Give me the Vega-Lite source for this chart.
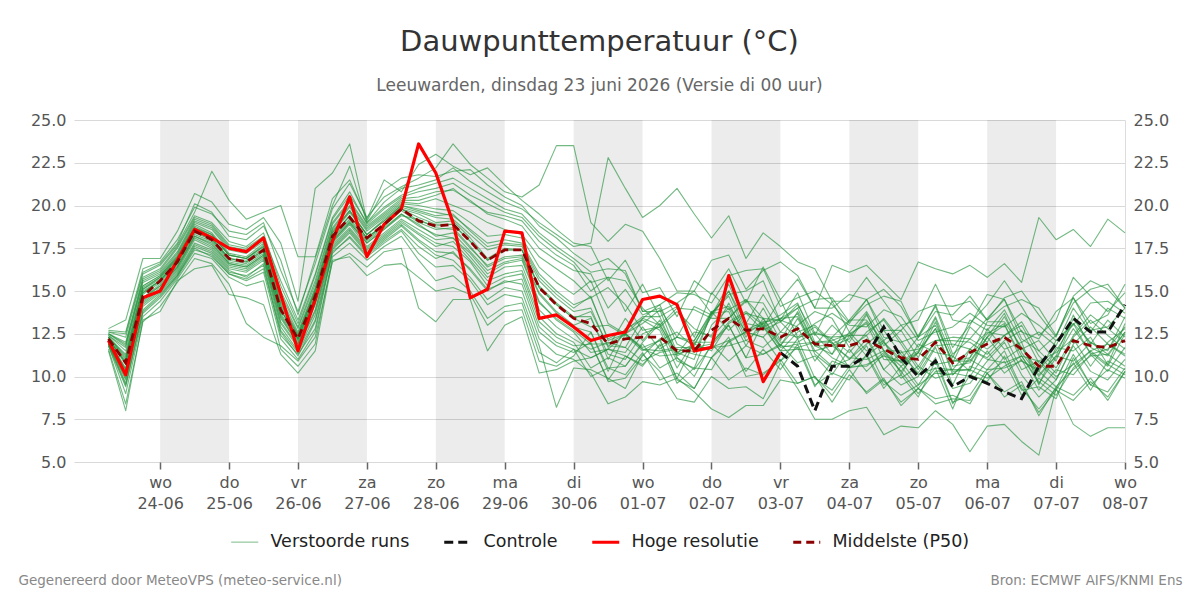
{
"$schema":"https://vega.github.io/schema/vega-lite/v6.json",
"width":1051,"height":342,
"autosize":{"type":"none"},
"padding":{"left":74,"top":120,"right":75,"bottom":138},
"background":"#ffffff",
"config":{"font":"DejaVu Sans","view":{"stroke":null}},
"title":{"text":"Dauwpunttemperatuur (°C)","subtitle":"Leeuwarden, dinsdag 23 juni 2026 (Versie di 00 uur)","anchor":"middle","frame":"group","fontSize":29,"fontWeight":"normal","color":"#333333","subtitleFontSize":17,"subtitleColor":"#666666","subtitlePadding":21,"offset":18},
"datasets":{
"days":[
{"a":"2026-06-24T00:00","b":"2026-06-25T00:00"},
{"a":"2026-06-26T00:00","b":"2026-06-27T00:00"},
{"a":"2026-06-28T00:00","b":"2026-06-29T00:00"},
{"a":"2026-06-30T00:00","b":"2026-07-01T00:00"},
{"a":"2026-07-02T00:00","b":"2026-07-03T00:00"},
{"a":"2026-07-04T00:00","b":"2026-07-05T00:00"},
{"a":"2026-07-06T00:00","b":"2026-07-07T00:00"}],
"runs":[
{"ts":"2026-06-23T06:00","a":12.1,"b":12.4,"c":11.8,"d":12.5,"e":12.2,"f":11.9,"g":12.7,"h":11.6,"i":12.3,"j":12.1,"k":12.5,"l":11.9,"m":12.3,"n":12.0,"o":12.6,"p":11.8,"q":12.2,"r":12.4,"s":12.2,"t":11.9,"u":12.3,"v":12.8,"w":12.0,"x":12.5,"y":11.5,"z":12.2,"A":12.3,"B":11.9,"E":12.6,"F":12.1,"H":12.1,"P":12.2},
{"ts":"2026-06-23T12:00","a":10.4,"b":11.5,"c":9.4,"d":12.0,"e":10.8,"f":9.9,"g":12.6,"h":8.4,"i":11.1,"j":10.5,"k":11.8,"l":9.6,"m":11.3,"n":10.2,"o":12.3,"p":9.0,"q":10.9,"r":11.7,"s":10.7,"t":9.5,"u":11.2,"v":13.3,"w":10.1,"x":11.9,"y":8.0,"z":10.8,"A":11.0,"B":9.8,"E":12.5,"F":10.4,"H":10.1,"P":10.8},
{"ts":"2026-06-23T18:00","a":14.5,"b":15.3,"c":13.7,"d":15.8,"e":14.9,"f":14.2,"g":16.3,"h":13.2,"i":15.1,"j":14.6,"k":15.6,"l":13.9,"m":15.3,"n":14.4,"o":16.0,"p":13.5,"q":15.0,"r":15.5,"s":14.8,"t":13.8,"u":15.2,"v":16.9,"w":14.3,"x":15.7,"y":13.3,"z":14.9,"A":15.1,"B":14.1,"E":16.1,"F":14.6,"H":14.6,"P":14.7},
{"ts":"2026-06-24T00:00","a":15.3,"b":15.9,"c":14.6,"d":16.3,"e":15.6,"f":15.0,"g":16.7,"h":14.1,"i":15.8,"j":15.4,"k":16.1,"l":14.8,"m":15.9,"n":15.2,"o":16.5,"p":14.4,"q":15.6,"r":16.0,"s":15.5,"t":14.7,"u":15.8,"v":16.9,"w":15.1,"x":16.2,"y":13.8,"z":15.6,"A":15.7,"B":14.9,"E":16.6,"F":15.3,"H":15.0,"P":15.6},
{"ts":"2026-06-24T06:00","a":16.4,"b":17.1,"c":15.8,"d":17.6,"e":16.7,"f":16.1,"g":18.0,"h":15.5,"i":16.9,"j":16.5,"k":17.3,"l":15.9,"m":17.0,"n":16.3,"o":17.7,"p":15.7,"q":16.8,"r":17.2,"s":16.6,"t":15.9,"u":17.0,"v":18.5,"w":16.2,"x":17.5,"y":15.6,"z":16.7,"A":16.9,"B":16.0,"E":17.8,"F":16.4,"H":16.8,"P":16.7},
{"ts":"2026-06-24T12:00","a":18.2,"b":19.0,"c":17.4,"d":19.4,"e":18.5,"f":17.8,"g":19.9,"h":16.9,"i":18.7,"j":18.3,"k":19.2,"l":17.6,"m":18.9,"n":18.1,"o":19.6,"p":17.2,"q":18.6,"r":19.1,"s":18.4,"t":17.5,"u":18.8,"v":20.7,"w":18.0,"x":19.3,"y":16.3,"z":18.5,"A":18.7,"B":17.7,"E":20.1,"F":18.2,"H":18.6,"P":18.5},
{"ts":"2026-06-24T18:00","a":17.7,"b":18.6,"c":17.1,"d":19.0,"e":18.1,"f":17.4,"g":19.5,"h":16.6,"i":18.3,"j":17.9,"k":18.8,"l":17.2,"m":18.4,"n":17.6,"o":22.0,"p":16.9,"q":18.1,"r":18.7,"s":18.0,"t":17.0,"u":18.3,"v":20.2,"w":17.5,"x":18.9,"y":16.5,"z":18.0,"A":18.2,"B":17.3,"E":19.6,"F":17.8,"H":18.1,"P":18.0},
{"ts":"2026-06-25T00:00","a":16.6,"b":17.4,"c":16.0,"d":17.9,"e":16.9,"f":16.3,"g":18.5,"h":15.4,"i":17.1,"j":16.7,"k":17.6,"l":16.1,"m":17.2,"n":16.5,"o":20.3,"p":15.8,"q":16.9,"r":17.5,"s":16.8,"t":16.0,"u":17.1,"v":18.9,"w":16.4,"x":17.7,"y":14.8,"z":16.9,"A":17.1,"B":16.2,"E":18.2,"F":16.6,"H":17.5,"P":16.9},
{"ts":"2026-06-25T06:00","a":16.4,"b":17.2,"c":15.7,"d":17.6,"e":16.7,"f":16.1,"g":18.3,"h":13.1,"i":16.9,"j":16.5,"k":17.4,"l":15.9,"m":17.0,"n":16.3,"o":19.2,"p":15.3,"q":16.8,"r":17.3,"s":16.6,"t":15.6,"u":16.9,"v":18.6,"w":16.2,"x":17.5,"y":14.6,"z":16.7,"A":16.9,"B":15.8,"E":18.0,"F":16.4,"H":17.3,"P":16.7},
{"ts":"2026-06-25T12:00","a":17.1,"b":17.9,"c":16.3,"d":18.4,"e":17.4,"f":16.8,"g":19.0,"h":12.3,"i":17.6,"j":17.2,"k":18.1,"l":16.5,"m":17.8,"n":17.0,"o":19.6,"p":15.6,"q":17.5,"r":18.0,"s":17.3,"t":16.1,"u":17.7,"v":19.3,"w":16.9,"x":18.2,"y":14.2,"z":17.4,"A":17.6,"B":16.6,"E":18.8,"F":17.1,"H":18.1,"P":17.4},
{"ts":"2026-06-25T18:00","a":13.5,"b":14.6,"c":12.6,"d":15.3,"e":13.9,"f":12.9,"g":16.2,"h":11.8,"i":14.2,"j":13.6,"k":15.0,"l":12.4,"m":14.4,"n":13.2,"o":20.0,"p":11.6,"q":13.9,"r":14.8,"s":13.7,"t":12.2,"u":14.3,"v":17.8,"w":13.1,"x":15.6,"y":11.3,"z":13.9,"A":14.1,"B":12.7,"E":16.8,"F":13.4,"H":14.8,"P":13.9},
{"ts":"2026-06-26T00:00","a":11.9,"b":12.6,"c":11.2,"d":13.1,"e":12.2,"f":11.5,"g":13.8,"h":10.9,"i":12.4,"j":12.0,"k":12.9,"l":11.3,"m":12.5,"n":11.8,"o":17.0,"p":10.6,"q":12.2,"r":12.8,"s":12.1,"t":11.0,"u":12.4,"v":14.4,"w":11.7,"x":13.3,"y":10.2,"z":12.2,"A":12.3,"B":11.4,"E":13.6,"F":11.9,"H":11.5,"P":12.2},
{"ts":"2026-06-26T06:00","a":14.3,"b":15.2,"c":13.2,"d":15.9,"e":14.7,"f":13.6,"g":16.6,"h":12.3,"i":15.0,"j":14.4,"k":15.6,"l":12.8,"m":15.1,"n":13.9,"o":17.0,"p":11.9,"q":14.7,"r":15.4,"s":14.5,"t":12.6,"u":15.0,"v":21.0,"w":13.8,"x":16.0,"y":11.5,"z":14.7,"A":14.9,"B":13.3,"E":16.9,"F":14.2,"H":14.5,"P":14.7},
{"ts":"2026-06-26T12:00","a":17.9,"b":18.7,"c":17.2,"d":19.2,"e":18.2,"f":17.6,"g":19.8,"h":16.7,"i":18.4,"j":18.0,"k":19.0,"l":17.4,"m":18.6,"n":17.8,"o":20.4,"p":17.0,"q":18.2,"r":18.9,"s":18.1,"t":17.3,"u":18.5,"v":21.9,"w":17.7,"x":19.3,"y":16.8,"z":18.2,"A":18.4,"B":17.5,"E":20.0,"F":17.9,"H":17.9,"P":18.2},
{"ts":"2026-06-26T18:00","a":19.0,"b":20.0,"c":18.2,"d":20.6,"e":19.4,"f":18.6,"g":21.3,"h":17.2,"i":19.7,"j":19.1,"k":20.3,"l":18.4,"m":19.9,"n":18.9,"o":21.5,"p":17.8,"q":19.4,"r":20.2,"s":19.2,"t":18.1,"u":19.7,"v":23.6,"w":18.7,"x":20.8,"y":17.0,"z":19.4,"A":19.6,"B":18.5,"E":22.3,"F":19.0,"H":20.5,"P":19.3},
{"ts":"2026-06-27T00:00","a":17.8,"b":18.6,"c":17.1,"d":19.0,"e":18.1,"f":17.4,"g":19.3,"h":16.4,"i":18.3,"j":17.9,"k":18.8,"l":17.2,"m":18.5,"n":17.6,"o":19.2,"p":16.8,"q":18.1,"r":18.7,"s":18.0,"t":17.0,"u":18.3,"v":19.1,"w":17.5,"x":18.9,"y":15.9,"z":18.1,"A":18.3,"B":17.3,"E":19.0,"F":17.8,"H":17.0,"P":18.1},
{"ts":"2026-06-27T06:00","a":18.6,"b":19.4,"c":17.9,"d":19.9,"e":18.9,"f":18.2,"g":20.5,"h":17.3,"i":19.1,"j":18.7,"k":19.6,"l":18.0,"m":19.3,"n":18.4,"o":21.5,"p":17.6,"q":18.9,"r":19.5,"s":18.8,"t":17.8,"u":19.2,"v":20.9,"w":18.3,"x":19.8,"y":16.5,"z":18.9,"A":19.1,"B":18.1,"E":20.2,"F":18.6,"H":18.9,"P":18.9},
{"ts":"2026-06-27T12:00","a":19.4,"b":20.2,"c":18.6,"d":20.6,"e":19.8,"f":19.0,"g":21.1,"h":17.5,"i":20.0,"j":19.5,"k":20.4,"l":18.8,"m":20.1,"n":19.2,"o":20.8,"p":18.2,"q":19.8,"r":20.3,"s":19.7,"t":18.5,"u":20.0,"v":21.6,"w":19.1,"x":20.5,"y":16.6,"z":19.8,"A":19.9,"B":18.9,"E":21.0,"F":19.5,"H":19.8,"P":19.8},
{"ts":"2026-06-27T18:00","a":19.2,"b":20.1,"c":17.6,"d":21.0,"e":19.5,"f":18.3,"g":21.6,"h":14.0,"i":19.8,"j":18.9,"k":20.5,"l":17.9,"m":20.0,"n":18.6,"o":22.4,"p":16.8,"q":19.3,"r":20.3,"s":19.0,"t":17.2,"u":19.7,"v":21.8,"w":18.4,"x":20.8,"y":15.8,"z":19.1,"A":19.6,"B":18.0,"E":21.2,"F":18.8,"H":23.6,"P":19.1},
{"ts":"2026-06-28T00:00","a":18.7,"b":20.4,"c":16.9,"d":21.3,"e":19.0,"f":17.6,"g":22.2,"h":13.2,"i":19.6,"j":18.2,"k":20.8,"l":17.1,"m":19.8,"n":18.0,"o":23.0,"p":15.6,"q":18.9,"r":20.6,"s":18.6,"t":16.4,"u":19.4,"v":21.7,"w":17.8,"x":21.0,"y":15.0,"z":18.8,"A":19.3,"B":17.3,"E":21.5,"F":18.3,"H":21.9,"P":18.8},
{"ts":"2026-06-28T06:00","a":18.6,"b":20.0,"c":17.3,"d":21.6,"e":19.1,"f":17.9,"g":23.6,"h":14.5,"i":19.4,"j":18.4,"k":20.9,"l":16.8,"m":19.7,"n":18.1,"o":22.3,"p":15.9,"q":18.9,"r":21.0,"s":18.7,"t":16.5,"u":19.5,"v":22.0,"w":17.6,"x":21.3,"y":15.2,"z":18.9,"A":19.2,"B":17.2,"E":22.2,"F":18.1,"H":19.0,"P":18.9},
{"ts":"2026-06-28T12:00","a":17.5,"b":19.6,"c":16.2,"d":21.0,"e":18.1,"f":16.8,"g":22.4,"h":14.5,"i":18.6,"j":17.3,"k":20.3,"l":15.8,"m":19.0,"n":17.0,"o":21.8,"p":15.0,"q":17.9,"r":20.2,"s":17.6,"t":15.6,"u":18.5,"v":22.1,"w":16.7,"x":20.6,"y":14.8,"z":17.9,"A":18.3,"B":16.3,"E":21.4,"F":17.2,"H":14.6,"P":17.9},
{"ts":"2026-06-28T18:00","a":16.5,"b":19.0,"c":15.0,"d":20.4,"e":16.9,"f":15.6,"g":21.6,"h":11.5,"i":17.8,"j":16.2,"k":19.5,"l":14.5,"m":18.2,"n":15.8,"o":22.2,"p":13.4,"q":16.8,"r":19.6,"s":16.4,"t":14.2,"u":17.6,"v":21.2,"w":15.3,"x":20.1,"y":13.0,"z":16.8,"A":17.4,"B":15.1,"E":20.8,"F":16.0,"H":15.1,"P":16.8},
{"ts":"2026-06-29T00:00","a":17.0,"b":18.6,"c":15.6,"d":19.8,"e":17.5,"f":16.0,"g":20.8,"h":13.0,"i":18.0,"j":16.7,"k":19.2,"l":15.2,"m":18.3,"n":16.4,"o":21.2,"p":14.1,"q":17.4,"r":19.4,"s":16.9,"t":14.8,"u":17.8,"v":20.5,"w":15.8,"x":19.6,"y":13.8,"z":17.4,"A":17.7,"B":15.5,"E":20.2,"F":16.6,"H":18.5,"P":17.4},
{"ts":"2026-06-29T06:00","a":17.1,"b":18.3,"c":15.4,"d":19.5,"e":17.4,"f":16.2,"g":20.5,"h":13.5,"i":17.8,"j":16.9,"k":18.8,"l":15.0,"m":18.1,"n":16.5,"o":20.3,"p":14.3,"q":17.4,"r":19.1,"s":17.0,"t":14.6,"u":17.7,"v":20.0,"w":16.0,"x":19.3,"y":13.9,"z":17.4,"A":17.6,"B":15.7,"E":19.8,"F":16.8,"H":18.4,"P":17.4},
{"ts":"2026-06-29T12:00","a":14.9,"b":17.0,"c":12.6,"d":18.4,"e":15.3,"f":13.5,"g":21.2,"h":10.2,"i":16.0,"j":14.4,"k":17.5,"l":12.2,"m":16.4,"n":13.9,"o":19.5,"p":11.4,"q":15.2,"r":17.9,"s":14.8,"t":11.8,"u":15.8,"v":18.8,"w":13.2,"x":18.2,"y":10.9,"z":15.2,"A":15.6,"B":12.9,"E":19.0,"F":14.3,"H":13.4,"P":15.2},
{"ts":"2026-06-29T18:00","a":13.8,"b":16.3,"c":11.8,"d":17.6,"e":14.3,"f":12.5,"g":23.5,"h":10.4,"i":15.0,"j":13.3,"k":16.8,"l":11.3,"m":15.5,"n":12.9,"o":18.6,"p":10.8,"q":14.2,"r":17.1,"s":13.7,"t":8.2,"u":14.8,"v":18.1,"w":12.3,"x":17.4,"y":10.6,"z":14.2,"A":14.6,"B":12.0,"E":18.3,"F":13.4,"H":13.6,"P":14.2},
{"ts":"2026-06-30T00:00","a":13.0,"b":15.6,"c":11.4,"d":16.9,"e":13.5,"f":12.0,"g":23.5,"h":10.9,"i":14.2,"j":12.6,"k":16.2,"l":11.0,"m":14.8,"n":12.2,"o":17.8,"p":11.6,"q":13.4,"r":16.5,"s":12.9,"t":10.5,"u":14.0,"v":17.2,"w":11.8,"x":16.7,"y":11.2,"z":13.4,"A":13.8,"B":11.6,"E":17.6,"F":12.7,"H":12.9,"P":13.4},
{"ts":"2026-06-30T06:00","a":13.4,"b":14.6,"c":12.0,"d":16.1,"e":13.5,"f":10.5,"g":19.0,"h":11.1,"i":14.6,"j":11.4,"k":16.0,"l":10.2,"m":15.6,"n":11.6,"o":17.6,"p":11.1,"q":13.8,"r":15.0,"s":12.6,"t":10.4,"u":14.7,"v":16.5,"w":11.9,"x":15.5,"y":12.6,"z":12.9,"A":14.0,"B":10.0,"E":17.8,"F":11.9,"H":12.1,"P":13.1},
{"ts":"2026-06-30T12:00","a":11.3,"b":15.2,"c":9.7,"d":16.3,"e":11.0,"f":11.1,"g":17.9,"h":11.6,"i":12.2,"j":11.6,"k":14.0,"l":8.4,"m":13.1,"n":12.0,"o":15.6,"p":11.6,"q":11.8,"r":15.8,"s":10.3,"t":9.9,"u":12.1,"v":16.9,"w":9.8,"x":15.8,"y":10.5,"z":13.0,"A":11.7,"B":10.5,"E":22.8,"F":11.9,"H":12.4,"P":11.9},
{"ts":"2026-06-30T18:00","a":11.0,"b":14.2,"c":9.9,"d":16.2,"e":12.8,"f":10.6,"g":18.9,"h":11.2,"i":12.7,"j":12.5,"k":15.1,"l":8.8,"m":12.5,"n":11.7,"o":16.8,"p":11.4,"q":11.7,"r":15.6,"s":12.5,"t":9.3,"u":12.5,"v":16.0,"w":11.2,"x":13.8,"y":10.6,"z":12.4,"A":13.4,"B":10.1,"E":21.0,"F":12.5,"H":12.6,"P":12.2},
{"ts":"2026-07-01T00:00","a":12.5,"b":12.7,"c":11.2,"d":13.8,"e":13.3,"f":11.9,"g":18.5,"h":10.7,"i":13.5,"j":11.6,"k":13.6,"l":9.7,"m":13.4,"n":10.9,"o":14.9,"p":12.9,"q":13.4,"r":14.0,"s":11.7,"t":11.3,"u":13.1,"v":13.8,"w":10.6,"x":15.4,"y":12.0,"z":11.5,"A":12.1,"B":11.4,"E":19.3,"F":11.6,"H":14.5,"P":12.3},
{"ts":"2026-07-01T06:00","a":12.9,"b":12.9,"c":12.2,"d":13.8,"e":12.7,"f":10.5,"g":16.9,"h":11.8,"i":13.5,"j":11.2,"k":14.0,"l":9.5,"m":14.2,"n":11.4,"o":15.2,"p":11.6,"q":13.0,"r":13.0,"s":12.1,"t":10.3,"u":13.9,"v":14.2,"w":11.9,"x":13.5,"y":13.1,"z":12.1,"A":13.3,"B":9.8,"E":20.0,"F":11.5,"H":14.7,"P":12.3},
{"ts":"2026-07-01T12:00","a":10.9,"b":13.8,"c":9.8,"d":14.3,"e":10.5,"f":11.1,"g":15.0,"h":12.3,"i":11.2,"j":11.3,"k":12.3,"l":9.9,"m":11.9,"n":11.6,"o":13.5,"p":12.3,"q":11.4,"r":14.0,"s":9.9,"t":8.7,"u":11.4,"v":14.9,"w":9.6,"x":14.1,"y":11.1,"z":12.6,"A":11.3,"B":10.2,"E":21.0,"F":11.7,"H":14.2,"P":11.5},
{"ts":"2026-07-01T18:00","a":10.5,"b":12.8,"c":9.3,"d":15.0,"e":12.1,"f":10.0,"g":15.0,"h":11.9,"i":11.8,"j":11.7,"k":14.1,"l":9.1,"m":11.4,"n":11.3,"o":15.6,"p":12.1,"q":11.0,"r":13.9,"s":12.0,"t":8.5,"u":11.9,"v":14.8,"w":10.5,"x":12.3,"y":10.4,"z":11.7,"A":12.6,"B":9.3,"E":19.5,"F":11.7,"H":11.5,"P":11.5},
{"ts":"2026-07-02T00:00","a":13.0,"b":12.3,"c":11.1,"d":13.7,"e":13.7,"f":11.9,"g":16.8,"h":11.5,"i":13.7,"j":11.7,"k":13.6,"l":8.1,"m":13.6,"n":11.1,"o":14.8,"p":13.8,"q":13.8,"r":13.4,"s":12.0,"t":10.0,"u":13.5,"v":14.3,"w":10.4,"x":14.9,"y":11.8,"z":11.9,"A":12.4,"B":11.1,"E":18.1,"F":11.7,"H":11.7,"P":12.7},
{"ts":"2026-07-02T06:00","a":14.0,"b":13.4,"c":12.3,"d":14.8,"e":13.8,"f":10.9,"g":17.1,"h":13.1,"i":14.7,"j":11.8,"k":15.0,"l":7.6,"m":15.4,"n":12.0,"o":16.3,"p":12.7,"q":14.1,"r":13.4,"s":13.0,"t":9.3,"u":15.0,"v":15.9,"w":12.1,"x":13.9,"y":13.0,"z":13.2,"A":14.3,"B":9.8,"E":19.4,"F":12.1,"H":15.9,"P":13.4},
{"ts":"2026-07-02T12:00","a":12.1,"b":14.5,"c":10.0,"d":15.0,"e":11.8,"f":11.8,"g":15.1,"h":13.7,"i":12.5,"j":12.1,"k":13.1,"l":8.3,"m":13.1,"n":12.6,"o":14.3,"p":13.7,"q":12.6,"r":14.4,"s":11.1,"t":9.4,"u":12.7,"v":16.2,"w":10.3,"x":14.5,"y":11.1,"z":13.8,"A":12.3,"B":10.5,"E":16.9,"F":12.6,"H":13.0,"P":12.7},
{"ts":"2026-07-02T18:00","a":11.7,"b":13.4,"c":10.2,"d":15.6,"e":13.4,"f":11.3,"g":16.2,"h":13.4,"i":13.1,"j":12.9,"k":14.8,"l":8.3,"m":12.9,"n":12.3,"o":16.4,"p":12.7,"q":12.3,"r":14.3,"s":13.2,"t":8.7,"u":13.2,"v":16.3,"w":11.6,"x":12.9,"y":11.3,"z":13.0,"A":14.0,"B":10.1,"E":18.4,"F":13.1,"H":9.7,"P":12.8},
{"ts":"2026-07-03T00:00","a":12.6,"b":11.8,"c":10.9,"d":13.2,"e":13.3,"f":11.9,"g":16.7,"h":12.0,"i":13.6,"j":11.5,"k":13.2,"l":9.8,"m":13.4,"n":10.9,"o":14.5,"p":13.2,"q":13.4,"r":12.6,"s":11.8,"t":10.8,"u":13.3,"v":14.1,"w":10.4,"x":14.5,"y":11.8,"z":11.5,"A":12.1,"B":11.0,"E":17.6,"F":11.7,"H":11.4,"C":11.4,"P":12.3},
{"ts":"2026-07-03T06:00","a":13.7,"b":13.0,"c":12.2,"d":14.0,"e":12.9,"f":10.8,"g":15.9,"h":12.0,"i":14.3,"j":11.6,"k":14.2,"l":9.6,"m":14.0,"n":11.7,"o":15.7,"p":12.2,"q":13.5,"r":12.3,"s":11.7,"t":9.3,"u":14.9,"v":14.6,"w":11.9,"x":12.3,"y":13.4,"z":12.6,"A":13.8,"B":9.6,"E":16.7,"F":11.9,"C":10.6,"P":12.8},
{"ts":"2026-07-03T12:00","a":11.3,"b":13.8,"c":9.9,"d":14.5,"e":10.9,"f":11.2,"g":14.0,"h":12.6,"i":12.0,"j":11.5,"k":12.4,"l":10.0,"m":11.8,"n":12.0,"o":14.0,"p":12.9,"q":11.8,"r":13.1,"s":9.4,"t":7.5,"u":12.5,"v":15.0,"w":9.5,"x":12.5,"y":11.5,"z":13.0,"A":11.8,"B":10.0,"E":16.3,"F":12.0,"C":8.0,"P":11.9},
{"ts":"2026-07-03T18:00","a":10.5,"b":13.4,"c":9.2,"d":14.6,"e":12.3,"f":10.1,"g":14.0,"h":12.2,"i":12.1,"j":11.8,"k":14.4,"l":8.5,"m":11.8,"n":11.1,"o":16.5,"p":11.9,"q":11.3,"r":13.7,"s":10.9,"t":7.5,"u":12.3,"v":14.2,"w":10.2,"x":11.3,"y":10.6,"z":12.0,"A":13.0,"B":8.9,"E":14.4,"F":12.0,"C":10.6,"P":11.8},
{"ts":"2026-07-04T00:00","a":12.4,"b":11.7,"c":10.6,"d":13.2,"e":12.4,"f":11.6,"g":14.8,"h":11.4,"i":12.5,"j":11.1,"k":12.6,"l":10.1,"m":12.2,"n":10.6,"o":16.1,"p":12.4,"q":13.3,"r":13.0,"s":10.5,"t":8.0,"u":13.3,"v":13.1,"w":9.8,"x":12.6,"y":11.0,"z":11.0,"A":12.0,"B":10.4,"E":14.4,"F":10.5,"C":10.6,"P":11.8},
{"ts":"2026-07-04T06:00","a":13.2,"b":12.4,"c":11.8,"d":14.2,"e":12.4,"f":10.3,"g":14.5,"h":12.6,"i":13.1,"j":11.0,"k":13.8,"l":9.1,"m":13.7,"n":10.6,"o":16.5,"p":11.2,"q":13.3,"r":12.9,"s":11.2,"t":8.2,"u":14.5,"v":14.5,"w":11.3,"x":11.5,"y":12.2,"z":11.9,"A":13.6,"B":9.0,"E":15.8,"F":10.7,"C":11.2,"P":12.1},
{"ts":"2026-07-04T12:00","a":11.5,"b":13.4,"c":9.7,"d":14.7,"e":10.4,"f":11.3,"g":12.7,"h":13.3,"i":11.0,"j":11.5,"k":12.1,"l":9.9,"m":11.5,"n":11.4,"o":15.5,"p":12.0,"q":12.0,"r":13.9,"s":9.3,"t":6.6,"u":12.3,"v":15.1,"w":9.5,"x":12.1,"y":10.4,"z":12.7,"A":11.8,"B":9.8,"E":14.4,"F":11.2,"C":12.9,"P":11.6},
{"ts":"2026-07-04T18:00","a":10.3,"b":12.1,"c":8.9,"d":14.4,"e":11.4,"f":9.9,"g":12.7,"h":11.9,"i":10.9,"j":11.5,"k":13.0,"l":8.3,"m":10.6,"n":10.3,"o":14.5,"p":10.8,"q":11.0,"r":13.5,"s":10.6,"t":7.1,"u":12.0,"v":14.1,"w":10.1,"x":10.1,"y":9.5,"z":11.3,"A":12.7,"B":8.5,"E":13.0,"F":10.9,"C":11.1,"P":11.1},
{"ts":"2026-07-05T00:00","a":11.4,"b":10.6,"c":9.5,"d":12.3,"e":11.6,"f":10.6,"g":13.8,"h":10.4,"i":11.5,"j":10.1,"k":11.7,"l":9.3,"m":11.4,"n":9.0,"o":16.7,"p":11.4,"q":12.3,"r":12.1,"s":9.3,"t":7.0,"u":12.4,"v":12.3,"w":8.8,"x":11.9,"y":10.0,"z":10.2,"A":11.1,"B":9.3,"E":13.3,"F":9.5,"C":10.0,"P":11.0},
{"ts":"2026-07-05T06:00","a":12.8,"b":12.1,"c":11.1,"d":13.8,"e":12.1,"f":9.9,"g":14.2,"h":12.1,"i":12.8,"j":10.5,"k":13.5,"l":8.7,"m":13.4,"n":10.3,"o":16.3,"p":10.7,"q":13.0,"r":12.6,"s":10.5,"t":8.0,"u":14.1,"v":14.2,"w":10.9,"x":11.4,"y":11.7,"z":11.8,"A":13.2,"B":8.4,"E":15.4,"F":10.2,"C":10.9,"P":12.0},
{"ts":"2026-07-05T12:00","a":10.3,"b":12.3,"c":8.5,"d":13.6,"e":9.5,"f":10.2,"g":11.7,"h":12.1,"i":10.1,"j":10.4,"k":11.1,"l":8.9,"m":10.6,"n":10.4,"o":16.0,"p":10.9,"q":10.9,"r":12.9,"s":8.1,"t":7.2,"u":11.3,"v":14.1,"w":8.4,"x":11.2,"y":9.3,"z":11.9,"A":10.8,"B":8.7,"E":13.3,"F":10.1,"C":9.4,"P":10.8},
{"ts":"2026-07-05T18:00","a":10.4,"b":12.2,"c":8.9,"d":14.7,"e":11.6,"f":10.0,"g":13.0,"h":12.0,"i":11.1,"j":11.6,"k":13.3,"l":8.4,"m":10.8,"n":10.4,"o":16.5,"p":10.9,"q":11.1,"r":13.7,"s":10.6,"t":5.6,"u":12.2,"v":14.4,"w":10.1,"x":10.3,"y":9.6,"z":11.6,"A":12.9,"B":8.6,"E":13.1,"F":11.0,"C":10.0,"P":11.4},
{"ts":"2026-07-06T00:00","a":12.3,"b":11.6,"c":10.4,"d":13.3,"e":12.6,"f":11.5,"g":14.8,"h":11.3,"i":12.5,"j":11.0,"k":12.7,"l":10.2,"m":12.3,"n":9.9,"o":15.8,"p":12.3,"q":13.2,"r":13.0,"s":10.2,"t":7.1,"u":13.4,"v":13.3,"w":9.7,"x":12.8,"y":10.9,"z":11.1,"A":12.0,"B":10.2,"E":14.2,"F":10.4,"C":9.6,"P":11.9},
{"ts":"2026-07-06T06:00","a":13.0,"b":12.4,"c":11.5,"d":14.1,"e":12.4,"f":10.2,"g":14.5,"h":12.4,"i":13.1,"j":10.8,"k":13.9,"l":9.1,"m":13.7,"n":10.6,"o":16.6,"p":11.0,"q":13.2,"r":12.9,"s":10.9,"t":7.2,"u":14.5,"v":14.6,"w":11.2,"x":11.6,"y":12.0,"z":12.1,"A":13.5,"B":8.8,"E":15.6,"F":10.5,"C":9.1,"P":12.3},
{"ts":"2026-07-06T12:00","a":11.2,"b":13.2,"c":9.3,"d":14.5,"e":10.4,"f":11.0,"g":12.6,"h":13.0,"i":10.9,"j":11.2,"k":12.0,"l":9.7,"m":11.4,"n":11.2,"o":15.5,"p":11.7,"q":11.7,"r":13.7,"s":8.9,"t":6.2,"u":12.2,"v":15.0,"w":9.2,"x":12.0,"y":10.1,"z":12.7,"A":11.6,"B":9.5,"E":14.1,"F":10.9,"C":8.7,"P":11.6},
{"ts":"2026-07-06T18:00","a":9.6,"b":11.5,"c":8.1,"d":14.0,"e":10.9,"f":9.2,"g":12.2,"h":11.2,"i":10.4,"j":10.9,"k":12.6,"l":7.7,"m":10.0,"n":9.7,"o":19.3,"p":10.1,"q":10.3,"r":13.0,"s":9.9,"t":5.4,"u":11.5,"v":13.6,"w":9.4,"x":9.5,"y":8.8,"z":10.8,"A":12.1,"B":7.9,"E":12.4,"F":10.3,"C":10.6,"P":10.6},
{"ts":"2026-07-07T00:00","a":11.1,"b":10.5,"c":9.3,"d":12.4,"e":11.4,"f":10.4,"g":13.8,"h":10.2,"i":11.5,"j":10.0,"k":11.8,"l":9.4,"m":11.2,"n":8.9,"o":18.0,"p":11.2,"q":12.1,"r":12.1,"s":9.2,"t":9.3,"u":12.4,"v":12.3,"w":8.7,"x":11.7,"y":9.8,"z":9.8,"A":10.9,"B":9.2,"E":13.3,"F":9.4,"C":11.9,"P":10.6},
{"ts":"2026-07-07T06:00","a":12.8,"b":12.4,"c":11.3,"d":14.3,"e":12.2,"f":10.1,"g":14.6,"h":12.3,"i":13.1,"j":10.7,"k":14.0,"l":8.9,"m":13.6,"n":10.5,"o":18.6,"p":10.9,"q":13.1,"r":13.0,"s":10.8,"t":7.2,"u":14.6,"v":14.7,"w":11.1,"x":11.5,"y":11.8,"z":11.9,"A":13.4,"B":8.6,"E":15.8,"F":10.4,"C":13.4,"P":12.1},
{"ts":"2026-07-07T12:00","a":11.4,"b":13.6,"c":9.5,"d":15.1,"e":10.6,"f":11.3,"g":13.1,"h":13.3,"i":11.3,"j":11.5,"k":12.6,"l":9.9,"m":11.7,"n":11.5,"o":17.6,"p":12.0,"q":12.0,"r":14.3,"s":9.2,"t":6.5,"u":12.7,"v":15.6,"w":9.5,"x":12.3,"y":10.3,"z":12.9,"A":11.9,"B":9.7,"E":14.7,"F":11.2,"C":12.6,"P":11.8},
{"ts":"2026-07-07T18:00","a":10.6,"b":12.8,"c":9.1,"d":15.4,"e":12.0,"f":10.3,"g":13.6,"h":12.4,"i":11.6,"j":11.9,"k":14.0,"l":8.6,"m":11.2,"n":10.7,"o":19.2,"p":11.3,"q":11.5,"r":14.4,"s":10.9,"t":7.0,"u":12.9,"v":15.1,"w":10.4,"x":10.7,"y":9.8,"z":11.9,"A":13.3,"B":8.8,"E":13.8,"F":11.3,"C":12.6,"P":11.7},
{"ts":"2026-07-08T00:00","a":12.5,"b":12.0,"c":10.5,"d":14.0,"e":12.8,"f":11.7,"g":15.4,"h":11.6,"i":12.9,"j":11.2,"k":13.4,"l":10.3,"m":12.6,"n":10.1,"o":18.4,"p":12.6,"q":13.5,"r":13.7,"s":10.4,"t":7.0,"u":14.0,"v":14.0,"w":9.9,"x":13.1,"y":11.0,"z":11.3,"A":12.3,"B":10.3,"E":14.9,"F":10.6,"C":14.2,"P":12.1}
]},
"encoding":{
 "x":{"field":"ts","type":"temporal",
  "scale":{"domain":[{"year":2026,"month":6,"date":22,"hours":18},{"year":2026,"month":7,"date":8}]},
  "axis":{"values":[{"year":2026,"month":6,"date":24},{"year":2026,"month":6,"date":25},{"year":2026,"month":6,"date":26},{"year":2026,"month":6,"date":27},{"year":2026,"month":6,"date":28},{"year":2026,"month":6,"date":29},{"year":2026,"month":6,"date":30},{"year":2026,"month":7,"date":1},{"year":2026,"month":7,"date":2},{"year":2026,"month":7,"date":3},{"year":2026,"month":7,"date":4},{"year":2026,"month":7,"date":5},{"year":2026,"month":7,"date":6},{"year":2026,"month":7,"date":7},{"year":2026,"month":7,"date":8}],
   "labelExpr":"[['zo','ma','di','wo','do','vr','za'][day(datum.value)], timeFormat(datum.value, '%d-%m')]",
   "labelFontSize":16,"labelColor":"#555555","labelLineHeight":21,"labelPadding":5,"labelAngle":0,"labelFlush":false,"labelOverlap":false,
   "tickSize":7,"tickColor":"#666666","tickWidth":1.5,"domain":false,"grid":false,
   "title":"Gegenereerd door MeteoVPS (meteo-service.nl)","titleX":-56,"titleY":118,"titleAnchor":"start","titleAlign":"left","titleBaseline":"middle","titleFontSize":13.5,"titleColor":"#888888","titleFontWeight":"normal"}}
},
"layer":[
{"data":{"name":"days"},
 "mark":{"type":"rect","color":"#000000","opacity":0.075},
 "encoding":{
  "x":{"field":"a","type":"temporal"},
  "x2":{"field":"b"}}},
{"data":{"name":"runs"},
 "transform":[{"fold":["a","b","c","d","e","f","g","h","i","j","k","l","m","n","o","p","q","r","s","t","u","v","w","x","y","z","A","B","E","F"],"as":["run","dp"]}],
 "mark":{"type":"line","strokeWidth":1.1,"strokeJoin":"round"},
 "encoding":{
  "y":{"field":"dp","type":"quantitative","scale":{"domain":[5,25]},
   "axis":{"orient":"left","values":[5,7.5,10,12.5,15,17.5,20,22.5,25],"format":".1f","grid":true,"gridColor":"#d9d9d9","ticks":false,"domain":false,"labelPadding":8,"labelFontSize":16,"labelColor":"#555555","title":null}},
  "detail":{"field":"run"},
  "color":{"datum":"Verstoorde runs","type":"nominal",
   "scale":{"domain":["Verstoorde runs","Controle","Hoge resolutie","Middelste (P50)"],"range":["rgba(34,145,60,0.64)","#111111","#ff0000","#8b0000"]},
   "legend":{"orient":"none","direction":"horizontal","legendX":162,"legendY":413,"title":null,"labelFontSize":17.5,"labelColor":"#222222","symbolType":"stroke","symbolSize":729,"labelOffset":17,"columnPadding":28,
    "encode":{"symbols":{"update":{
      "strokeWidth":{"signal":"datum.value === 'Verstoorde runs' ? 1 : 3"},
      "strokeDash":{"signal":"datum.value === 'Controle' ? [9,5] : (datum.value === 'Middelste (P50)' ? [8,5] : [1,0])"}}}}}}}},
{"data":{"name":"runs"},
 "mark":{"type":"line","strokeWidth":3,"strokeDash":[9,5]},
 "encoding":{
  "y":{"field":"C","type":"quantitative","scale":{"domain":[5,25]},
   "axis":{"orient":"right","values":[5,7.5,10,12.5,15,17.5,20,22.5,25],"format":".1f","grid":false,"ticks":false,"domain":true,"domainColor":"#dddddd","labelPadding":8,"labelFontSize":16,"labelColor":"#555555",
    "title":"Bron: ECMWF AIFS/KNMI Ens","titleAngle":0,"titleX":57,"titleY":460,"titleAlign":"right","titleBaseline":"middle","titleFontSize":13.5,"titleColor":"#888888","titleFontWeight":"normal"}},
  "color":{"datum":"Controle","type":"nominal"}}},
{"data":{"name":"runs"},
 "mark":{"type":"line","strokeWidth":3.2,"strokeJoin":"round"},
 "encoding":{
  "y":{"field":"H","type":"quantitative","scale":{"domain":[5,25]},"axis":null},
  "color":{"datum":"Hoge resolutie","type":"nominal"}}},
{"data":{"name":"runs"},
 "mark":{"type":"line","strokeWidth":2.8,"strokeDash":[8,5]},
 "encoding":{
  "y":{"field":"P","type":"quantitative","scale":{"domain":[5,25]},"axis":null},
  "color":{"datum":"Middelste (P50)","type":"nominal"}}}
],
"resolve":{"axis":{"y":"independent"}}
}
